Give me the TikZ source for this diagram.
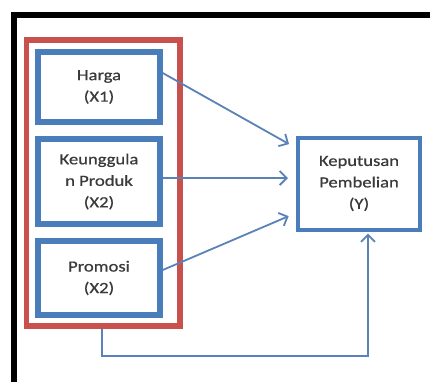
\documentclass[tikz,border=0pt]{standalone}
\usepackage{fontspec}
\setmainfont{Carlito}
\newfontfamily\boxfont{Carlito}[FakeStretch=1.2, FakeBold=0.6]
\usepackage{xcolor}
\usetikzlibrary{arrows.meta,positioning,calc}
\definecolor{boxblue}{HTML}{4A7EBB}
\definecolor{grpred}{HTML}{C8504D}
\definecolor{linkblue}{HTML}{5B82B8}
\definecolor{txtgray}{HTML}{3A3A3A}

\begin{document}
\begin{tikzpicture}[x=1pt, y=-1pt, >={Straight Barb[length=7pt,width=14pt]},
        varbox/.style={draw=boxblue, line width=5.5pt, fill=white, align=center, text=txtgray,
            font=\boxfont\fontsize{15.5}{21.5}\selectfont, minimum width=122pt, inner sep=0pt},
        link/.style={->, draw=linkblue, line width=1.8pt, shorten >=8pt}]
        \useasboundingbox (0,0) rectangle (430,381);
        \fill[white] (0,0) rectangle (430,381);
        % outer frame
        \draw[line width=6pt] (14,390) -- (14,15) -- (440,15);

        \node[draw=grpred, line width=5.5pt, minimum width=153.5pt, minimum height=286pt, inner sep=0pt] (grp) at (103,183) {};
        \node[varbox, minimum height=70pt] (harga) at (99,87) {Harga\\(X1)};
        \node[varbox, minimum height=85pt] (produk) at (99,181.5) {Keunggula\\n Produk\\(X2)};
        \node[varbox, minimum height=74pt] (promosi) at (99,278) {Promosi\\(X2)};
        \node[varbox, line width=4pt, minimum height=92pt] (kep) at (359,183.5) {Keputusan\\Pembelian\\(Y)};

        \draw[link] ([yshift=14pt]harga.east) -- ([yshift=35.5pt]kep.west);
        \draw[link] ([yshift=3.5pt]produk.east) -- ([yshift=5.5pt]kep.west);
        \draw[link] ([yshift=8pt]promosi.east) -- ([yshift=-29.5pt]kep.west);
        \draw[link, shorten >=2pt] ([xshift=-1pt]grp.south) -- ++(0,27) -| ([xshift=9pt]kep.south);
    \end{tikzpicture}
\end{document}
